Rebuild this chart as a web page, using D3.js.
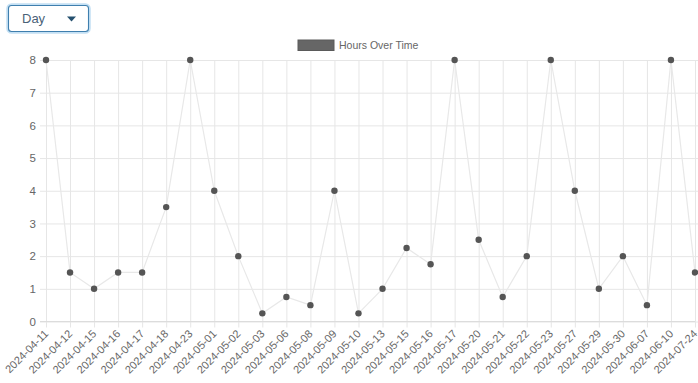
<!DOCTYPE html>
<html><head><meta charset="utf-8">
<script src="https://cdn.jsdelivr.net/npm/d3@7"></script>
<style>
html,body{margin:0;padding:0;background:#fff;width:698px;height:383px;overflow:hidden;font-family:"Liberation Sans",Arial,sans-serif;}
</style></head>
<body><svg id="c" width="698" height="383"></svg>
<script>
const categories = ["2024-04-11","2024-04-12","2024-04-15","2024-04-16","2024-04-17","2024-04-18","2024-04-23","2024-05-01","2024-05-02","2024-05-03","2024-05-06","2024-05-08","2024-05-09","2024-05-10","2024-05-13","2024-05-15","2024-05-16","2024-05-17","2024-05-20","2024-05-21","2024-05-22","2024-05-23","2024-05-27","2024-05-29","2024-05-30","2024-06-07","2024-06-10","2024-07-24"];
const hours = [8,1.5,1,1.5,1.5,3.5,8,4,2,0.25,0.75,0.5,4,0.25,1,2.25,1.75,8,2.5,0.75,2,8,4,1,2,0.5,8,1.5];
const yTicks = [0,1,2,3,4,5,6,7,8];
const seriesName = "Hours Over Time";
const dropdownLabel = "Day";

const svg = d3.select("#c");
const x = d3.scalePoint().domain(categories).range([46, 695]);
const y = d3.scaleLinear().domain([0, 8]).range([321.5, 60]);
const grid = "#e6e6e6";

// horizontal grid
const yAxis = d3.axisLeft(y).tickValues(yTicks).tickSize(6).tickPadding(4).tickFormat(d3.format("d"));
const gy = svg.append("g").attr("transform","translate(46,0)").call(yAxis);
gy.select(".domain").remove();
gy.selectAll(".tick line").attr("stroke", grid).attr("x1",-6).attr("x2", 695-46+3);
gy.selectAll(".tick text").attr("fill","#666").attr("font-size","11.5px").attr("font-family","Liberation Sans, Arial, sans-serif");

// vertical grid + x labels
const xAxis = d3.axisBottom(x).tickSize(0).tickPadding(0);
const gx = svg.append("g").attr("transform","translate(0,321.5)").call(xAxis);
gx.select(".domain").remove();
gx.selectAll(".tick line").attr("stroke", grid).attr("y1", 6).attr("y2", 60-321.5);
gx.selectAll(".tick text")
  .attr("fill","#666").attr("font-size","11px").attr("font-family","Liberation Sans, Arial, sans-serif")
  .attr("text-anchor","end").attr("dy",0)
  .attr("transform","translate(2.5,13) rotate(-45)");
// baseline
svg.append("line").attr("x1",40).attr("x2",695).attr("y1",y(0)).attr("y2",y(0)).attr("stroke","#dcdcdc");

// line
svg.append("path").datum(hours)
  .attr("d", d3.line().x((d,i)=>x(categories[i])).y(d=>y(d)))
  .attr("fill","none").attr("stroke","#e8e8e8").attr("stroke-width",1.2);
// points
svg.append("g").selectAll("circle").data(hours).join("circle")
  .attr("cx",(d,i)=>x(categories[i])).attr("cy",d=>y(d)).attr("r",3.2).attr("fill","#555");

// legend
svg.append("rect").attr("x",298).attr("y",40).attr("width",36).attr("height",10.5).attr("fill","#666").attr("stroke","#5a5a5a");
svg.append("text").attr("x",339).attr("y",48.5).attr("font-size","10.5px").attr("fill","#666")
  .attr("font-family","Liberation Sans, Arial, sans-serif").text(seriesName);

// dropdown
svg.append("rect").attr("x",8).attr("y",5).attr("width",81).attr("height",27).attr("rx",3.5)
  .attr("fill","#fff").attr("stroke","#c4e0f4").attr("stroke-width",3.5);
svg.append("rect").attr("x",8.5).attr("y",5.5).attr("width",80).attr("height",26).attr("rx",3)
  .attr("fill","#fff").attr("stroke","#3f7fae").attr("stroke-width",1.1);
svg.append("text").attr("x",22).attr("y",22.5).attr("font-size","13px").attr("fill","#4a6278")
  .attr("font-family","Liberation Sans, Arial, sans-serif").text(dropdownLabel);
svg.append("path").attr("d","M67,16.5 L76,16.5 L71.5,21.5 Z").attr("fill","#25506f");
</script></body></html>
